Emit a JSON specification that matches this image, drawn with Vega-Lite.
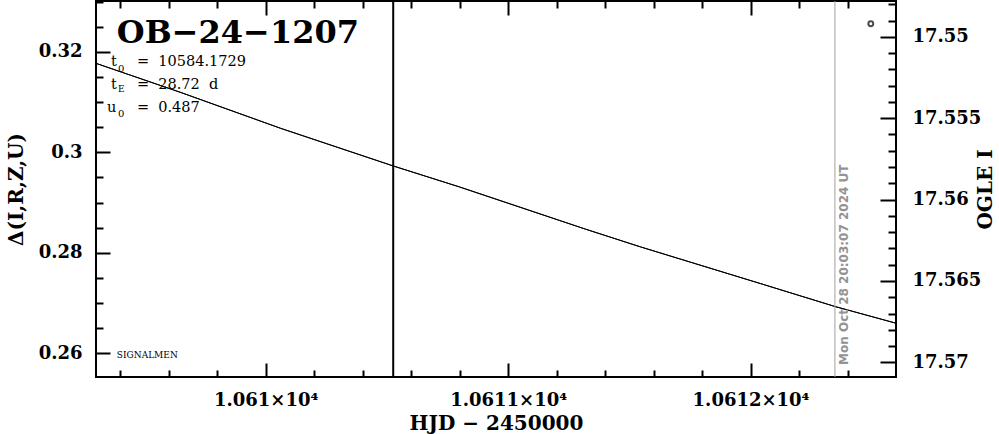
{
  "$schema": "https://vega.github.io/schema/vega-lite/v6.json",
  "width": 800,
  "height": 376,
  "autosize": {"type": "none"},
  "padding": {"left": 96, "top": 1, "right": 103, "bottom": 57},
  "background": "white",
  "config": {
    "view": {"stroke": "black", "strokeWidth": 2},
    "axis": {
      "domain": false,
      "grid": false,
      "tickColor": "black",
      "tickWidth": 2,
      "labelFont": "DejaVu Serif",
      "labelFontWeight": "bold",
      "labelFontSize": 18,
      "labelColor": "black",
      "titleFont": "DejaVu Serif",
      "titleFontWeight": "bold",
      "titleFontSize": 20,
      "titleColor": "black"
    }
  },
  "datasets": {
    "curve": [
      {"t": 10609.3, "d": 0.3177},
      {"t": 10609.65, "d": 0.3119},
      {"t": 10610.06, "d": 0.3048},
      {"t": 10610.525, "d": 0.2973},
      {"t": 10610.8, "d": 0.2931},
      {"t": 10611.32, "d": 0.2847},
      {"t": 10611.545, "d": 0.2812},
      {"t": 10612.04, "d": 0.2739},
      {"t": 10612.35, "d": 0.2693},
      {"t": 10612.6, "d": 0.266}
    ],
    "ogle": [
      {"t": 10612.496, "mag": 17.5492}
    ],
    "one": [{}]
  },
  "resolve": {
    "scale": {"y": "independent"},
    "axis": {"x": "independent", "y": "independent"}
  },
  "layer": [
    {
      "data": {"name": "curve"},
      "mark": {"type": "line", "color": "black", "strokeWidth": 1},
      "encoding": {
        "x": {"field": "t", "type": "quantitative",
          "scale": {"domain": [10609.3, 10612.6], "nice": false, "zero": false},
          "axis": {"orient": "bottom", "values": [10610, 10611, 10612], "tickSize": -14, "labelPadding": 28,
            "labelExpr": "format(datum.value/10000, '.5~f') + '×10⁴'",
            "title": "HJD − 2450000", "titlePadding": 4}},
        "y": {"field": "d", "type": "quantitative",
          "scale": {"domain": [0.2553, 0.3301], "nice": false, "zero": false},
          "axis": {"orient": "left", "values": [0.26, 0.28, 0.3, 0.32], "format": "~g", "tickSize": -14, "labelPadding": 28,
            "title": "Δ(I,R,Z,U)", "titlePadding": 12}}
      }
    },
    {
      "data": {"name": "curve"},
      "mark": {"type": "line", "color": "black", "strokeWidth": 1},
      "encoding": {
        "x": {"field": "t", "type": "quantitative",
          "scale": {"domain": [10609.3, 10612.6], "nice": false, "zero": false},
          "axis": {"orient": "bottom", "values": [10609.4, 10609.6, 10609.8, 10610.2, 10610.4, 10610.6, 10610.8, 10611.2, 10611.4, 10611.6, 10611.8, 10612.2, 10612.4],
            "tickSize": -7, "labels": false, "title": null}},
        "y": {"field": "d", "type": "quantitative",
          "scale": {"domain": [0.2553, 0.3301], "nice": false, "zero": false},
          "axis": {"orient": "left", "values": [0.265, 0.27, 0.275, 0.285, 0.29, 0.295, 0.305, 0.31, 0.315, 0.325, 0.33],
            "tickSize": -7, "labels": false, "title": null}}
      }
    },
    {
      "data": {"name": "ogle"},
      "mark": {"type": "point", "shape": "circle", "filled": false, "color": "black", "size": 24, "strokeWidth": 2},
      "encoding": {
        "x": {"field": "t", "type": "quantitative",
          "scale": {"domain": [10609.3, 10612.6], "nice": false, "zero": false},
          "axis": {"orient": "top", "values": [10610, 10611, 10612], "tickSize": -14, "labels": false, "title": null}},
        "y": {"field": "mag", "type": "quantitative",
          "scale": {"domain": [17.5478, 17.5709], "reverse": true, "nice": false, "zero": false},
          "axis": {"orient": "right", "values": [17.55, 17.555, 17.56, 17.565, 17.57], "format": "~g", "tickSize": -16, "labelPadding": 32,
            "title": "OGLE I", "titleAngle": 270, "titlePadding": 15}}
      }
    },
    {
      "data": {"name": "ogle"},
      "mark": {"type": "point", "opacity": 0},
      "encoding": {
        "x": {"field": "t", "type": "quantitative",
          "scale": {"domain": [10609.3, 10612.6], "nice": false, "zero": false},
          "axis": {"orient": "top", "values": [10609.4, 10609.6, 10609.8, 10610.2, 10610.4, 10610.6, 10610.8, 10611.2, 10611.4, 10611.6, 10611.8, 10612.2, 10612.4],
            "tickSize": -7, "labels": false, "title": null}},
        "y": {"field": "mag", "type": "quantitative",
          "scale": {"domain": [17.5478, 17.5709], "reverse": true, "nice": false, "zero": false},
          "axis": {"orient": "right", "values": [17.548, 17.549, 17.551, 17.552, 17.553, 17.554, 17.556, 17.557, 17.558, 17.559, 17.561, 17.562, 17.563, 17.564, 17.566, 17.567, 17.568, 17.569],
            "tickSize": -8, "labels": false, "title": null}}
      }
    },
    {
      "data": {"name": "one"},
      "mark": {"type": "rule", "color": "black", "strokeWidth": 2},
      "encoding": {"x": {"datum": 10610.526, "type": "quantitative", "axis": null}}
    },
    {
      "data": {"name": "one"},
      "mark": {"type": "rule", "color": "#a0a0a0", "strokeWidth": 1},
      "encoding": {"x": {"datum": 10612.348, "type": "quantitative", "axis": null}}
    },
    {
      "data": {"name": "one"},
      "mark": {"type": "text", "font": "DejaVu Sans", "fontWeight": "bold", "fontSize": 12, "color": "#939393", "angle": 270, "align": "left", "baseline": "top", "dy": 4},
      "encoding": {
        "x": {"datum": 10612.348, "type": "quantitative", "axis": null},
        "y": {"datum": 0.2577, "type": "quantitative", "scale": {"domain": [0.2553, 0.3301]}, "axis": null},
        "text": {"value": "Mon Oct 28 20:03:07 2024 UT"}
      }
    },
    {
      "data": {"name": "one"},
      "mark": {"type": "text", "font": "DejaVu Serif", "fontWeight": "bold", "fontSize": 32, "color": "black", "align": "left", "baseline": "alphabetic"},
      "encoding": {
        "x": {"datum": 10609.386, "type": "quantitative", "axis": null},
        "y": {"datum": 0.32167, "type": "quantitative", "scale": {"domain": [0.2553, 0.3301]}, "axis": null},
        "text": {"value": "OB−24−1207"}
      }
    },
    {
      "data": {"name": "one"},
      "mark": {"type": "text", "font": "DejaVu Serif", "fontSize": 14.5, "color": "black", "align": "left", "baseline": "alphabetic", "dx": 4},
      "encoding": {
        "x": {"datum": 10609.345, "type": "quantitative", "axis": null},
        "y": {"datum": 0.31716, "type": "quantitative", "scale": {"domain": [0.2553, 0.3301]}, "axis": null},
        "text": {"value": "t"}
      }
    },
    {
      "data": {"name": "one"},
      "mark": {"type": "text", "font": "DejaVu Serif", "fontSize": 10, "color": "black", "align": "left", "baseline": "alphabetic", "dx": 11, "dy": 6},
      "encoding": {
        "x": {"datum": 10609.345, "type": "quantitative", "axis": null},
        "y": {"datum": 0.31716, "type": "quantitative", "scale": {"domain": [0.2553, 0.3301]}, "axis": null},
        "text": {"value": "0"}
      }
    },
    {
      "data": {"name": "one"},
      "mark": {"type": "text", "font": "DejaVu Serif", "fontSize": 14.5, "color": "black", "align": "left", "baseline": "alphabetic", "dx": 30},
      "encoding": {
        "x": {"datum": 10609.345, "type": "quantitative", "axis": null},
        "y": {"datum": 0.31716, "type": "quantitative", "scale": {"domain": [0.2553, 0.3301]}, "axis": null},
        "text": {"value": "=\u00a0\u00a010584.1729"}
      }
    },
    {
      "data": {"name": "one"},
      "mark": {"type": "text", "font": "DejaVu Serif", "fontSize": 14.5, "color": "black", "align": "left", "baseline": "alphabetic", "dx": 4},
      "encoding": {
        "x": {"datum": 10609.345, "type": "quantitative", "axis": null},
        "y": {"datum": 0.31258, "type": "quantitative", "scale": {"domain": [0.2553, 0.3301]}, "axis": null},
        "text": {"value": "t"}
      }
    },
    {
      "data": {"name": "one"},
      "mark": {"type": "text", "font": "DejaVu Serif", "fontSize": 9, "color": "black", "align": "left", "baseline": "alphabetic", "dx": 11, "dy": 3},
      "encoding": {
        "x": {"datum": 10609.345, "type": "quantitative", "axis": null},
        "y": {"datum": 0.31258, "type": "quantitative", "scale": {"domain": [0.2553, 0.3301]}, "axis": null},
        "text": {"value": "E"}
      }
    },
    {
      "data": {"name": "one"},
      "mark": {"type": "text", "font": "DejaVu Serif", "fontSize": 14.5, "color": "black", "align": "left", "baseline": "alphabetic", "dx": 30},
      "encoding": {
        "x": {"datum": 10609.345, "type": "quantitative", "axis": null},
        "y": {"datum": 0.31258, "type": "quantitative", "scale": {"domain": [0.2553, 0.3301]}, "axis": null},
        "text": {"value": "=\u00a0\u00a028.72\u00a0\u00a0d"}
      }
    },
    {
      "data": {"name": "one"},
      "mark": {"type": "text", "font": "DejaVu Serif", "fontSize": 14.5, "color": "black", "align": "left", "baseline": "alphabetic", "dx": 0},
      "encoding": {
        "x": {"datum": 10609.345, "type": "quantitative", "axis": null},
        "y": {"datum": 0.3081, "type": "quantitative", "scale": {"domain": [0.2553, 0.3301]}, "axis": null},
        "text": {"value": "u"}
      }
    },
    {
      "data": {"name": "one"},
      "mark": {"type": "text", "font": "DejaVu Serif", "fontSize": 10, "color": "black", "align": "left", "baseline": "alphabetic", "dx": 11, "dy": 5},
      "encoding": {
        "x": {"datum": 10609.345, "type": "quantitative", "axis": null},
        "y": {"datum": 0.3081, "type": "quantitative", "scale": {"domain": [0.2553, 0.3301]}, "axis": null},
        "text": {"value": "0"}
      }
    },
    {
      "data": {"name": "one"},
      "mark": {"type": "text", "font": "DejaVu Serif", "fontSize": 14.5, "color": "black", "align": "left", "baseline": "alphabetic", "dx": 30},
      "encoding": {
        "x": {"datum": 10609.345, "type": "quantitative", "axis": null},
        "y": {"datum": 0.3081, "type": "quantitative", "scale": {"domain": [0.2553, 0.3301]}, "axis": null},
        "text": {"value": "=\u00a0\u00a00.487"}
      }
    },
    {
      "data": {"name": "one"},
      "mark": {"type": "text", "font": "DejaVu Serif", "fontSize": 9, "color": "black", "align": "left", "baseline": "alphabetic"},
      "encoding": {
        "x": {"datum": 10609.386, "type": "quantitative", "axis": null},
        "y": {"datum": 0.25913, "type": "quantitative", "scale": {"domain": [0.2553, 0.3301]}, "axis": null},
        "text": {"value": "SIGNALMEN"}
      }
    }
  ]
}
